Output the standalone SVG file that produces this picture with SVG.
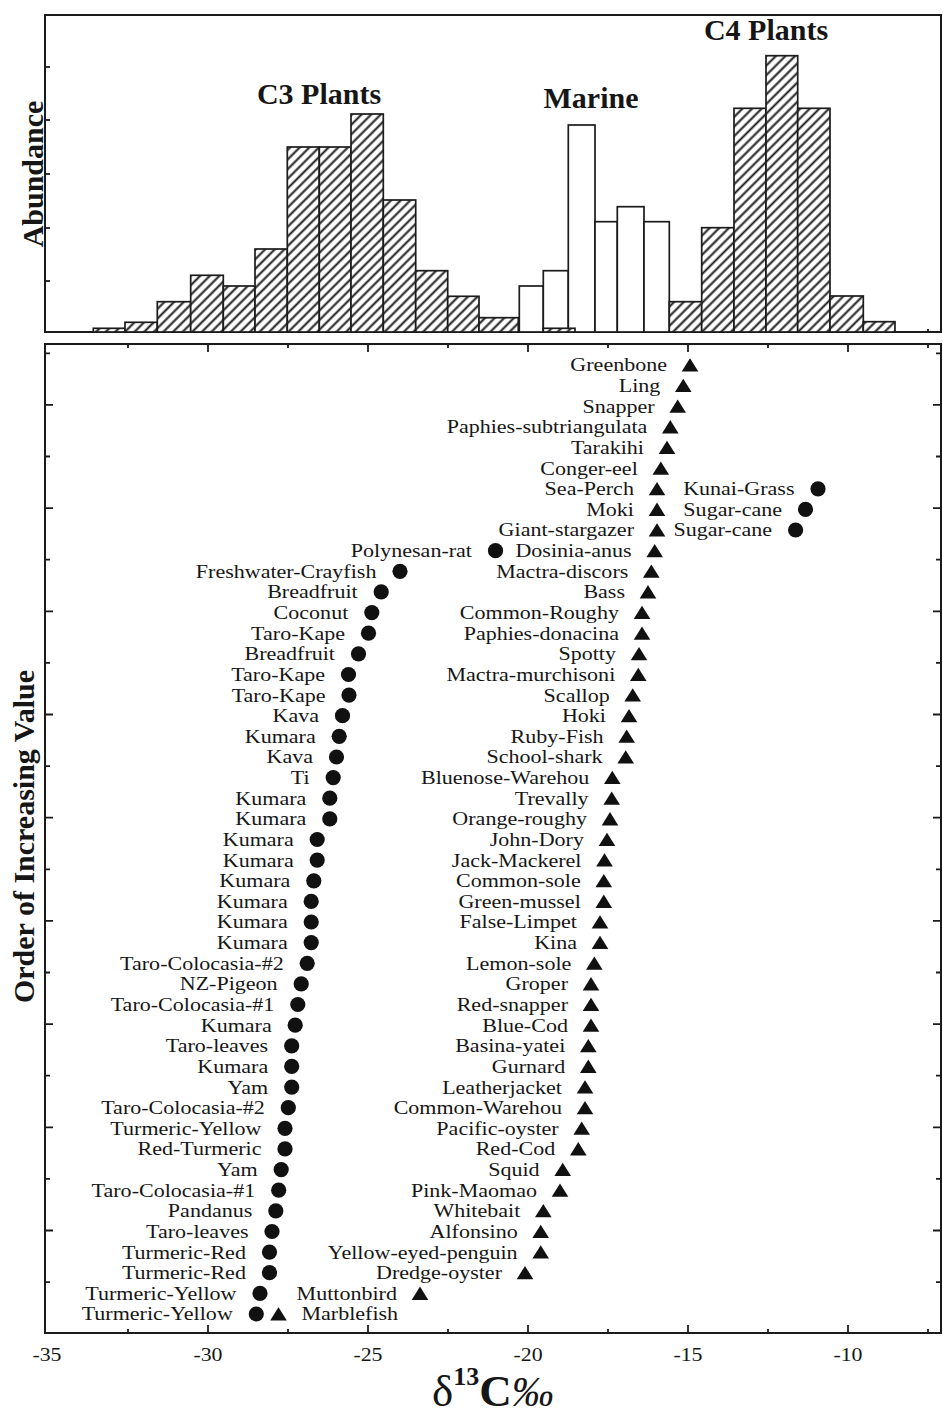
<svg xmlns="http://www.w3.org/2000/svg" xmlns:xlink="http://www.w3.org/1999/xlink" width="943" height="1416" viewBox="0 0 943 1416">
<style>
.lb{font-family:"Liberation Serif","Times New Roman",serif;font-size:19.5px;fill:#161616;text-anchor:end;transform-box:fill-box;transform-origin:100% 50%;transform:scaleX(1.13)}
.ls{font-family:"Liberation Serif","Times New Roman",serif;font-size:19.5px;fill:#161616;text-anchor:start;transform-box:fill-box;transform-origin:0% 50%;transform:scaleX(1.13)}
.ax{font-family:"Liberation Serif","Times New Roman",serif;font-size:19px;fill:#161616;text-anchor:middle;transform-box:fill-box;transform-origin:50% 50%;transform:scaleX(1.15)}
.tt{font-family:"Liberation Serif","Times New Roman",serif;font-size:30px;font-weight:bold;fill:#161616;text-anchor:middle}
.frame{fill:none;stroke:#1b1b1b;stroke-width:2}
.tick{stroke:#1b1b1b;stroke-width:1.8}
.hb{fill:url(#hatch);stroke:#1b1b1b;stroke-width:1.7}
.wb{fill:#fff;stroke:#1b1b1b;stroke-width:1.7}
.mk{fill:#111}
</style>
<defs>
<pattern id="hatch" patternUnits="userSpaceOnUse" width="6.8" height="6.8" patternTransform="rotate(45)">
<rect width="6.8" height="6.8" fill="#fff"/>
<line x1="3.4" y1="-1" x2="3.4" y2="7.8" stroke="#1b1b1b" stroke-width="2"/>
</pattern>
<path id="tri" class="mk" d="M0,-6.8 L8.3,6.5 L-8.3,6.5 Z"/>
<circle id="dot" class="mk" r="7.6"/>
</defs>
<rect width="943" height="1416" fill="#fff"/>

<g id="histogram-panel">
<rect class="frame" x="45" y="15" width="896" height="317"/>
<g id="histogram-ticks">
<line class="tick" x1="45" y1="67" x2="50" y2="67"/>
<line class="tick" x1="45" y1="120" x2="50" y2="120"/>
<line class="tick" x1="45" y1="174" x2="50" y2="174"/>
<line class="tick" x1="45" y1="228" x2="50" y2="228"/>
<line class="tick" x1="45" y1="281" x2="50" y2="281"/>
<line class="tick" x1="528" y1="332" x2="528" y2="328"/>
<line class="tick" x1="928" y1="332" x2="928" y2="329"/>
</g>
<g id="c3-bars">
<rect class="hb" x="93.3" y="328.3" width="31.7" height="3.7"/>
<rect class="hb" x="125" y="322.3" width="32.3" height="9.7"/>
<rect class="hb" x="157.3" y="301.7" width="33.4" height="30.3"/>
<rect class="hb" x="190.7" y="275.3" width="32.6" height="56.7"/>
<rect class="hb" x="223.3" y="286" width="31.7" height="46"/>
<rect class="hb" x="255" y="249" width="32.3" height="83"/>
<rect class="hb" x="287.3" y="147" width="32" height="185"/>
<rect class="hb" x="319.3" y="147" width="31.7" height="185"/>
<rect class="hb" x="351" y="114" width="32.3" height="218"/>
<rect class="hb" x="383.3" y="200" width="32.4" height="132"/>
<rect class="hb" x="415.7" y="270.7" width="32" height="61.3"/>
<rect class="hb" x="447.7" y="296.3" width="31.3" height="35.7"/>
<rect class="hb" x="479" y="317.7" width="39.3" height="14.3"/>
</g>
<g id="marine-bars">
<rect class="wb" x="519.3" y="286" width="24" height="46"/>
<rect class="wb" x="543.3" y="270.7" width="25" height="61.3"/>
<rect class="wb" x="568.3" y="125" width="26.7" height="207"/>
<rect class="wb" x="595" y="221.7" width="22.3" height="110.3"/>
<rect class="wb" x="617.3" y="206.7" width="26.7" height="125.3"/>
<rect class="wb" x="644" y="221.7" width="25.3" height="110.3"/>
<rect class="hb" x="543.3" y="328.3" width="31.7" height="3.7"/>
</g>
<g id="c4-bars">
<rect class="hb" x="669.3" y="301.7" width="32.4" height="30.3"/>
<rect class="hb" x="701.7" y="227.7" width="32.3" height="104.3"/>
<rect class="hb" x="734" y="108.3" width="32" height="223.7"/>
<rect class="hb" x="766" y="55.7" width="31.7" height="276.3"/>
<rect class="hb" x="797.7" y="108.3" width="32.3" height="223.7"/>
<rect class="hb" x="830" y="296" width="33.3" height="36"/>
<rect class="hb" x="863.3" y="321.7" width="31.7" height="10.3"/>
</g>
<text id="t-c3" class="tt" x="319" y="104">C3 Plants</text>
<text id="t-marine" class="tt" x="591" y="108">Marine</text>
<text id="t-c4" class="tt" x="766" y="40">C4 Plants</text>
<text id="t-abundance" class="tt" transform="translate(43,174) rotate(-90)">Abundance</text>
</g>

<g id="scatter-panel">
<rect class="frame" x="45" y="344" width="896" height="989"/>
<g id="x-ticks">
<line class="tick" x1="128" y1="1333" x2="128" y2="1329"/>
<line class="tick" x1="208" y1="1333" x2="208" y2="1325"/>
<line class="tick" x1="288" y1="1333" x2="288" y2="1329"/>
<line class="tick" x1="368" y1="1333" x2="368" y2="1325"/>
<line class="tick" x1="448" y1="1333" x2="448" y2="1329"/>
<line class="tick" x1="528" y1="1333" x2="528" y2="1325"/>
<line class="tick" x1="608" y1="1333" x2="608" y2="1329"/>
<line class="tick" x1="688" y1="1333" x2="688" y2="1325"/>
<line class="tick" x1="768" y1="1333" x2="768" y2="1329"/>
<line class="tick" x1="848" y1="1333" x2="848" y2="1325"/>
<line class="tick" x1="928" y1="1333" x2="928" y2="1329"/>
<line class="tick" x1="128" y1="344" x2="128" y2="348"/>
<line class="tick" x1="208" y1="344" x2="208" y2="352"/>
<line class="tick" x1="288" y1="344" x2="288" y2="348"/>
<line class="tick" x1="368" y1="344" x2="368" y2="352"/>
<line class="tick" x1="448" y1="344" x2="448" y2="348"/>
<line class="tick" x1="528" y1="344" x2="528" y2="352"/>
<line class="tick" x1="608" y1="344" x2="608" y2="348"/>
<line class="tick" x1="688" y1="344" x2="688" y2="352"/>
<line class="tick" x1="768" y1="344" x2="768" y2="348"/>
<line class="tick" x1="848" y1="344" x2="848" y2="352"/>
<line class="tick" x1="928" y1="344" x2="928" y2="348"/>
</g>
<g id="y-ticks">
<path class="tick" fill="none" d="M45,353.3h5 M45,404.9h8 M45,456.5h5 M45,508.1h8 M45,559.7h5 M45,611.3h8 M45,662.9h5 M45,714.5h8 M45,766.1h5 M45,817.7h8 M45,869.3h5 M45,920.9h8 M45,972.5h5 M45,1024.1h8 M45,1075.7h5 M45,1127.3h8 M45,1178.9h5 M45,1230.5h8 M45,1282.1h5"/>
<path class="tick" fill="none" d="M941,353.3h-5 M941,404.9h-8 M941,456.5h-5 M941,508.1h-8 M941,559.7h-5 M941,611.3h-8 M941,662.9h-5 M941,714.5h-8 M941,766.1h-5 M941,817.7h-8 M941,869.3h-5 M941,920.9h-8 M941,972.5h-5 M941,1024.1h-8 M941,1075.7h-5 M941,1127.3h-8 M941,1178.9h-5 M941,1230.5h-8 M941,1282.1h-5"/>
</g>
<g id="x-labels">
<text class="ax" x="47" y="1361">-35</text>
<text class="ax" x="208" y="1361">-30</text>
<text class="ax" x="368" y="1361">-25</text>
<text class="ax" x="528" y="1361">-20</text>
<text class="ax" x="688" y="1361">-15</text>
<text class="ax" x="848" y="1361">-10</text>
</g>
<text id="x-title" x="432" y="1406" font-family="'Liberation Serif','Times New Roman',serif" font-size="45" fill="#161616">δ<tspan font-size="26" font-weight="bold" dy="-21">13</tspan><tspan font-weight="bold" dy="21">C</tspan><tspan font-style="italic" font-size="42">‰</tspan></text>
<text id="y-title" class="tt" font-size="31" transform="translate(34,836.5) rotate(-90)">Order of Increasing Value</text>
</g>

<g id="connectors"></g>

<g id="marine-points">
<g id="m01"><use href="#tri" x="690" y="365"/><text class="lb" x="667" y="371.5">Greenbone</text></g>
<g id="m02"><use href="#tri" x="683.3" y="385.6"/><text class="lb" x="660.3" y="392.1">Ling</text></g>
<g id="m03"><use href="#tri" x="677.7" y="406.3"/><text class="lb" x="654.7" y="412.8">Snapper</text></g>
<g id="m04"><use href="#tri" x="670.3" y="426.9"/><text class="lb" x="647.3" y="433.4">Paphies-subtriangulata</text></g>
<g id="m05"><use href="#tri" x="667" y="447.5"/><text class="lb" x="644" y="454">Tarakihi</text></g>
<g id="m06"><use href="#tri" x="660.8" y="468.2"/><text class="lb" x="637.8" y="474.7">Conger-eel</text></g>
<g id="m07"><use href="#tri" x="657" y="488.8"/><text class="lb" x="634" y="495.3">Sea-Perch</text></g>
<g id="m08"><use href="#tri" x="657" y="509.4"/><text class="lb" x="634" y="515.9">Moki</text></g>
<g id="m09"><use href="#tri" x="657" y="530"/><text class="lb" x="634" y="536.5">Giant-stargazer</text></g>
<g id="m10"><use href="#tri" x="654.7" y="550.7"/><text class="lb" x="631.7" y="557.2">Dosinia-anus</text></g>
<g id="m11"><use href="#tri" x="651.3" y="571.3"/><text class="lb" x="628.3" y="577.8">Mactra-discors</text></g>
<g id="m12"><use href="#tri" x="648" y="591.9"/><text class="lb" x="625" y="598.4">Bass</text></g>
<g id="m13"><use href="#tri" x="642" y="612.6"/><text class="lb" x="619" y="619.1">Common-Roughy</text></g>
<g id="m14"><use href="#tri" x="642" y="633.2"/><text class="lb" x="619" y="639.7">Paphies-donacina</text></g>
<g id="m15"><use href="#tri" x="639" y="653.8"/><text class="lb" x="616" y="660.3">Spotty</text></g>
<g id="m16"><use href="#tri" x="638.3" y="674.5"/><text class="lb" x="615.3" y="681">Mactra-murchisoni</text></g>
<g id="m17"><use href="#tri" x="632.7" y="695.1"/><text class="lb" x="609.7" y="701.6">Scallop</text></g>
<g id="m18"><use href="#tri" x="629" y="715.7"/><text class="lb" x="606" y="722.2">Hoki</text></g>
<g id="m19"><use href="#tri" x="626.7" y="736.3"/><text class="lb" x="603.7" y="742.8">Ruby-Fish</text></g>
<g id="m20"><use href="#tri" x="625.7" y="757"/><text class="lb" x="602.7" y="763.5">School-shark</text></g>
<g id="m21"><use href="#tri" x="612.3" y="777.6"/><text class="lb" x="589.3" y="784.1">Bluenose-Warehou</text></g>
<g id="m22"><use href="#tri" x="611.7" y="798.2"/><text class="lb" x="588.7" y="804.7">Trevally</text></g>
<g id="m23"><use href="#tri" x="610" y="818.9"/><text class="lb" x="587" y="825.4">Orange-roughy</text></g>
<g id="m24"><use href="#tri" x="607" y="839.5"/><text class="lb" x="584" y="846">John-Dory</text></g>
<g id="m25"><use href="#tri" x="604.5" y="860.1"/><text class="lb" x="581.5" y="866.6">Jack-Mackerel</text></g>
<g id="m26"><use href="#tri" x="603.8" y="880.8"/><text class="lb" x="580.8" y="887.3">Common-sole</text></g>
<g id="m27"><use href="#tri" x="603.8" y="901.4"/><text class="lb" x="580.8" y="907.9">Green-mussel</text></g>
<g id="m28"><use href="#tri" x="600" y="922"/><text class="lb" x="577" y="928.5">False-Limpet</text></g>
<g id="m29"><use href="#tri" x="600" y="942.6"/><text class="lb" x="577" y="949.1">Kina</text></g>
<g id="m30"><use href="#tri" x="594.3" y="963.3"/><text class="lb" x="571.3" y="969.8">Lemon-sole</text></g>
<g id="m31"><use href="#tri" x="591" y="983.9"/><text class="lb" x="568" y="990.4">Groper</text></g>
<g id="m32"><use href="#tri" x="591" y="1004.5"/><text class="lb" x="568" y="1011">Red-snapper</text></g>
<g id="m33"><use href="#tri" x="591" y="1025.2"/><text class="lb" x="568" y="1031.7">Blue-Cod</text></g>
<g id="m34"><use href="#tri" x="588.3" y="1045.8"/><text class="lb" x="565.3" y="1052.3">Basina-yatei</text></g>
<g id="m35"><use href="#tri" x="588.3" y="1066.4"/><text class="lb" x="565.3" y="1072.9">Gurnard</text></g>
<g id="m36"><use href="#tri" x="585" y="1087.1"/><text class="lb" x="562" y="1093.6">Leatherjacket</text></g>
<g id="m37"><use href="#tri" x="585" y="1107.7"/><text class="lb" x="562" y="1114.2">Common-Warehou</text></g>
<g id="m38"><use href="#tri" x="581.7" y="1128.3"/><text class="lb" x="558.7" y="1134.8">Pacific-oyster</text></g>
<g id="m39"><use href="#tri" x="578.3" y="1148.9"/><text class="lb" x="555.3" y="1155.4">Red-Cod</text></g>
<g id="m40"><use href="#tri" x="562.7" y="1169.6"/><text class="lb" x="539.7" y="1176.1">Squid</text></g>
<g id="m41"><use href="#tri" x="560" y="1190.2"/><text class="lb" x="537" y="1196.7">Pink-Maomao</text></g>
<g id="m42"><use href="#tri" x="543.3" y="1210.8"/><text class="lb" x="520.3" y="1217.3">Whitebait</text></g>
<g id="m43"><use href="#tri" x="540.7" y="1231.5"/><text class="lb" x="517.7" y="1238">Alfonsino</text></g>
<g id="m44"><use href="#tri" x="540.7" y="1252.1"/><text class="lb" x="517.7" y="1258.6">Yellow-eyed-penguin</text></g>
<g id="m45"><use href="#tri" x="525" y="1272.7"/><text class="lb" x="502" y="1279.2">Dredge-oyster</text></g>
<g id="m46"><use href="#tri" x="420" y="1293.4"/><text class="lb" x="397" y="1299.9">Muttonbird</text></g>
<g id="m47"><use href="#tri" x="278.5" y="1314"/><text class="ls" x="301.5" y="1320.5">Marblefish</text></g>
</g>

<g id="plant-points">
<g id="c01"><use href="#dot" x="818" y="488.8"/><text class="lb" x="794.5" y="495.3">Kunai-Grass</text></g>
<g id="c02"><use href="#dot" x="805.5" y="509.4"/><text class="lb" x="782" y="515.9">Sugar-cane</text></g>
<g id="c03"><use href="#dot" x="795.6" y="530"/><text class="lb" x="772.1" y="536.5">Sugar-cane</text></g>
<g id="c04"><use href="#dot" x="495.5" y="550.7"/><text class="lb" x="472" y="557.2">Polynesan-rat</text></g>
<g id="c05"><use href="#dot" x="400" y="571.3"/><text class="lb" x="376.5" y="577.8">Freshwater-Crayfish</text></g>
<g id="c06"><use href="#dot" x="381.2" y="591.9"/><text class="lb" x="357.7" y="598.4">Breadfruit</text></g>
<g id="c07"><use href="#dot" x="371.8" y="612.6"/><text class="lb" x="348.3" y="619.1">Coconut</text></g>
<g id="c08"><use href="#dot" x="368.5" y="633.2"/><text class="lb" x="345" y="639.7">Taro-Kape</text></g>
<g id="c09"><use href="#dot" x="358.5" y="653.8"/><text class="lb" x="335" y="660.3">Breadfruit</text></g>
<g id="c10"><use href="#dot" x="348.5" y="674.5"/><text class="lb" x="325" y="681">Taro-Kape</text></g>
<g id="c11"><use href="#dot" x="349" y="695.1"/><text class="lb" x="325.5" y="701.6">Taro-Kape</text></g>
<g id="c12"><use href="#dot" x="342.5" y="715.7"/><text class="lb" x="319" y="722.2">Kava</text></g>
<g id="c13"><use href="#dot" x="339.2" y="736.3"/><text class="lb" x="315.7" y="742.8">Kumara</text></g>
<g id="c14"><use href="#dot" x="336.5" y="757"/><text class="lb" x="313" y="763.5">Kava</text></g>
<g id="c15"><use href="#dot" x="333.2" y="777.6"/><text class="lb" x="309.7" y="784.1">Ti</text></g>
<g id="c16"><use href="#dot" x="329.8" y="798.2"/><text class="lb" x="306.3" y="804.7">Kumara</text></g>
<g id="c17"><use href="#dot" x="329.8" y="818.9"/><text class="lb" x="306.3" y="825.4">Kumara</text></g>
<g id="c18"><use href="#dot" x="317.2" y="839.5"/><text class="lb" x="293.7" y="846">Kumara</text></g>
<g id="c19"><use href="#dot" x="317.2" y="860.1"/><text class="lb" x="293.7" y="866.6">Kumara</text></g>
<g id="c20"><use href="#dot" x="313.8" y="880.8"/><text class="lb" x="290.3" y="887.3">Kumara</text></g>
<g id="c21"><use href="#dot" x="311.2" y="901.4"/><text class="lb" x="287.7" y="907.9">Kumara</text></g>
<g id="c22"><use href="#dot" x="311.2" y="922"/><text class="lb" x="287.7" y="928.5">Kumara</text></g>
<g id="c23"><use href="#dot" x="311.2" y="942.6"/><text class="lb" x="287.7" y="949.1">Kumara</text></g>
<g id="c24"><use href="#dot" x="307.2" y="963.3"/><text class="lb" x="283.7" y="969.8">Taro-Colocasia-#2</text></g>
<g id="c25"><use href="#dot" x="301.2" y="983.9"/><text class="lb" x="277.7" y="990.4">NZ-Pigeon</text></g>
<g id="c26"><use href="#dot" x="297.8" y="1004.5"/><text class="lb" x="274.3" y="1011">Taro-Colocasia-#1</text></g>
<g id="c27"><use href="#dot" x="295.2" y="1025.2"/><text class="lb" x="271.7" y="1031.7">Kumara</text></g>
<g id="c28"><use href="#dot" x="291.7" y="1045.8"/><text class="lb" x="268.2" y="1052.3">Taro-leaves</text></g>
<g id="c29"><use href="#dot" x="291.7" y="1066.4"/><text class="lb" x="268.2" y="1072.9">Kumara</text></g>
<g id="c30"><use href="#dot" x="291.7" y="1087.1"/><text class="lb" x="268.2" y="1093.6">Yam</text></g>
<g id="c31"><use href="#dot" x="288.3" y="1107.7"/><text class="lb" x="264.8" y="1114.2">Taro-Colocasia-#2</text></g>
<g id="c32"><use href="#dot" x="285" y="1128.3"/><text class="lb" x="261.5" y="1134.8">Turmeric-Yellow</text></g>
<g id="c33"><use href="#dot" x="285" y="1148.9"/><text class="lb" x="261.5" y="1155.4">Red-Turmeric</text></g>
<g id="c34"><use href="#dot" x="281.2" y="1169.6"/><text class="lb" x="257.7" y="1176.1">Yam</text></g>
<g id="c35"><use href="#dot" x="278.7" y="1190.2"/><text class="lb" x="255.2" y="1196.7">Taro-Colocasia-#1</text></g>
<g id="c36"><use href="#dot" x="275.8" y="1210.8"/><text class="lb" x="252.3" y="1217.3">Pandanus</text></g>
<g id="c37"><use href="#dot" x="272" y="1231.5"/><text class="lb" x="248.5" y="1238">Taro-leaves</text></g>
<g id="c38"><use href="#dot" x="269.5" y="1252.1"/><text class="lb" x="246" y="1258.6">Turmeric-Red</text></g>
<g id="c39"><use href="#dot" x="269.5" y="1272.7"/><text class="lb" x="246" y="1279.2">Turmeric-Red</text></g>
<g id="c40"><use href="#dot" x="260" y="1293.4"/><text class="lb" x="236.5" y="1299.9">Turmeric-Yellow</text></g>
<g id="c41"><use href="#dot" x="256.3" y="1314"/><text class="lb" x="232.8" y="1320.5">Turmeric-Yellow</text></g>
</g>
</svg>
